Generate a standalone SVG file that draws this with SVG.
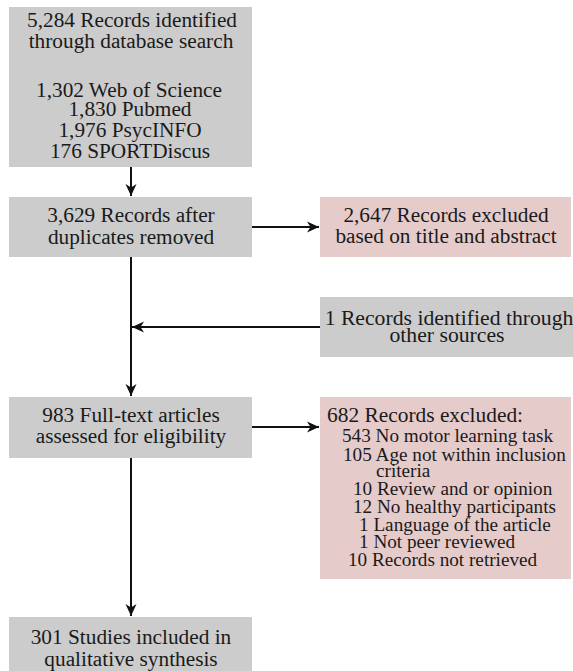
<svg xmlns="http://www.w3.org/2000/svg" width="573" height="671" viewBox="0 0 573 671">
  <style>
    .box { fill: #cccccc; }
    .excl { fill: #e6cbcb; }
    text { font-family: 'Liberation Serif', 'Times New Roman', Times, serif; fill: #1a1a1a; }
    .t { font-size: 21.3px; text-anchor: middle; }
    .side { font-size: 21.7px; }
    .hdr { font-size: 21.4px; }
    .li { font-size: 19.2px; }
    .edge { stroke: #111111; stroke-width: 2; fill: none; marker-end: url(#arrow); }
    .rail { stroke: #111111; stroke-width: 2; fill: none; }
  </style>
  <defs>
    <marker id="arrow" markerUnits="userSpaceOnUse" markerWidth="12" markerHeight="12" refX="12" refY="6" orient="auto" viewBox="0 0 12 12">
      <path d="M0,0.5 L12,6 L0,11.5 L3.5,6 Z" fill="#111111"/>
    </marker>
  </defs>

  <rect width="573" height="671" fill="#ffffff"/>

  <g id="connectors">
    <line class="edge" x1="131" y1="167" x2="131" y2="196"/>
    <line class="edge" x1="252" y1="227" x2="319" y2="227"/>
    <line class="rail" x1="131" y1="257" x2="131" y2="380"/>
    <line class="edge" x1="131" y1="380" x2="131" y2="396"/>
    <line class="edge" x1="320" y1="327" x2="132" y2="327"/>
    <line class="edge" x1="252" y1="427" x2="319" y2="427"/>
    <line class="edge" x1="131" y1="458" x2="131" y2="616"/>
  </g>

  <g id="identified">
    <rect class="box" x="9" y="7" width="243" height="160"/>
    <text class="t" x="132" y="27">5,284 Records identified</text>
    <text class="t" x="131" y="48">through database search</text>
    <text class="t" x="129" y="97">1,302 Web of Science</text>
    <text class="t" x="130" y="116">1,830 Pubmed</text>
    <text class="t" x="130" y="137">1,976 PsycINFO</text>
    <text class="t" x="130" y="158">176 SPORTDiscus</text>
  </g>

  <g id="deduplicated">
    <rect class="box" x="9" y="197" width="243" height="60"/>
    <text class="t" x="131" y="222">3,629 Records after</text>
    <text class="t" x="131" y="244">duplicates removed</text>
  </g>

  <g id="excluded-screening">
    <rect class="excl" x="320" y="197" width="251" height="60"/>
    <text class="t" x="446" y="222">2,647 Records excluded</text>
    <text class="t" x="446" y="243">based on title and abstract</text>
  </g>

  <g id="other-sources">
    <rect class="box" x="320" y="297" width="253" height="60"/>
    <text class="t side" x="449" y="325">1 Records identified through</text>
    <text class="t side" x="447" y="342">other sources</text>
  </g>

  <g id="full-text">
    <rect class="box" x="9" y="397" width="243" height="61"/>
    <text class="t" x="131" y="422">983 Full-text articles</text>
    <text class="t" x="131" y="443">assessed for eligibility</text>
  </g>

  <g id="excluded-eligibility">
    <rect class="excl" x="320" y="397" width="251" height="182"/>
    <text class="hdr" x="327" y="422">682 Records excluded:</text>
    <text class="li" x="342" y="442">543 No motor learning task</text>
    <text class="li" x="343" y="461">105 Age not within inclusion</text>
    <text class="li" x="376" y="477">criteria</text>
    <text class="li" x="353" y="495">10 Review and or opinion</text>
    <text class="li" x="353" y="513">12 No healthy participants</text>
    <text class="li" x="359" y="531">1 Language of the article</text>
    <text class="li" x="359" y="548">1 Not peer reviewed</text>
    <text class="li" x="348" y="566">10 Records not retrieved</text>
  </g>

  <g id="included">
    <rect class="box" x="9" y="617" width="243" height="56"/>
    <text class="t" x="131" y="644">301 Studies included in</text>
    <text class="t" x="131" y="666">qualitative synthesis</text>
  </g>
</svg>
